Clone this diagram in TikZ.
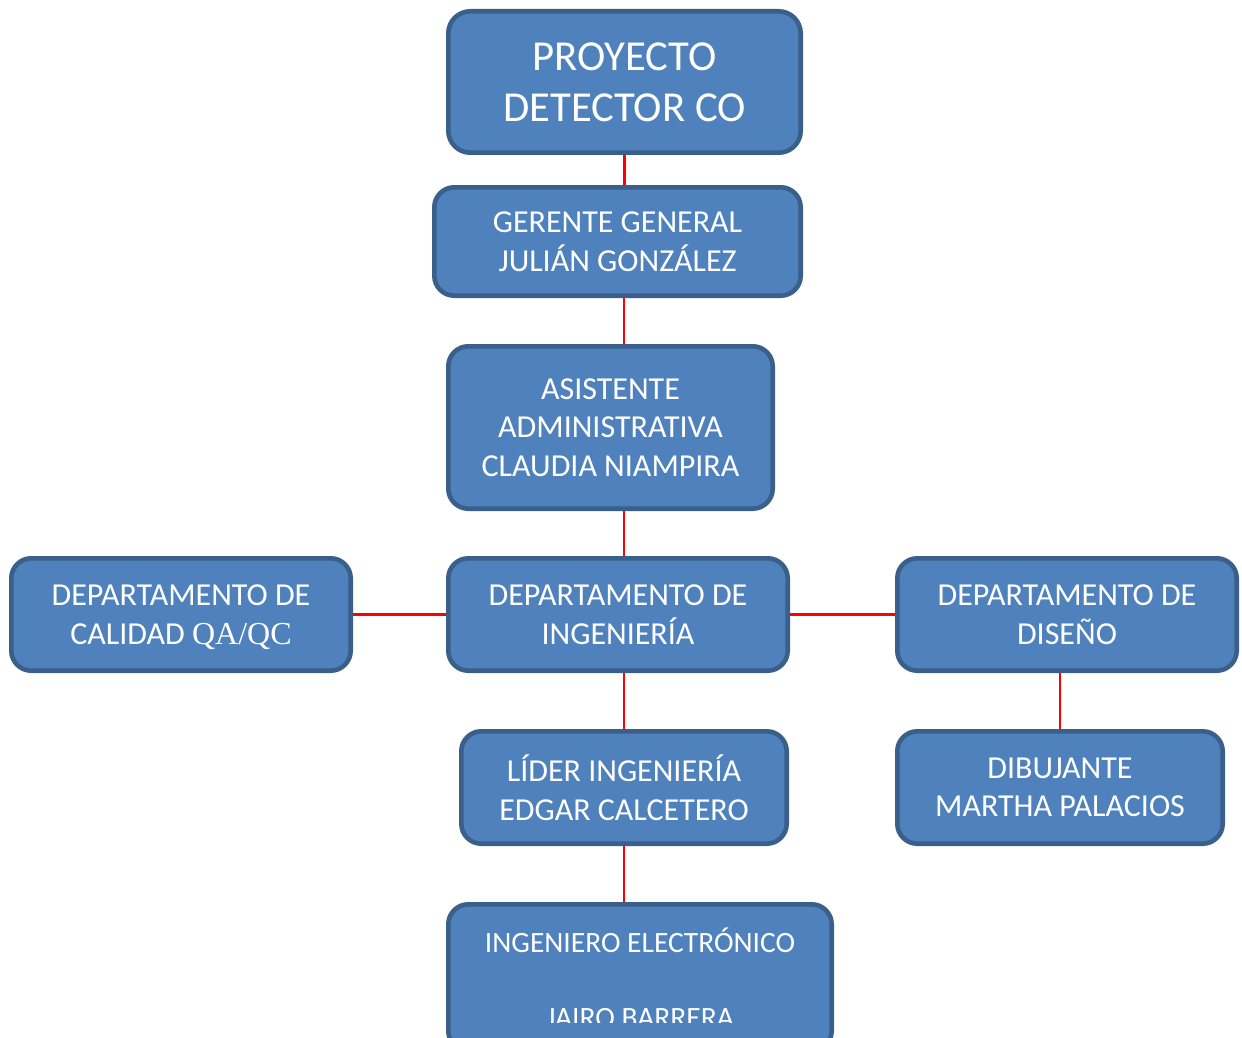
\documentclass[tikz,border=0pt]{standalone}
\usepackage{fontspec}
\setmainfont{Carlito}
\newfontfamily\serifqa{Liberation Serif}
\usetikzlibrary{backgrounds}
\definecolor{boxfill}{HTML}{4F81BD}
\definecolor{boxline}{HTML}{3A5F8B}
\definecolor{connred}{HTML}{FF0000}
\tikzset{
  orgbox/.style={draw=boxline, fill=boxfill, line width=4.6pt, rounded corners=20pt,
    text=white, align=center, inner sep=0pt,
    font=\fontsize{32}{38.5}\selectfont},
  conn/.style={draw=connred, line width=2.2pt}
}
\begin{document}
\begin{tikzpicture}[x=1pt,y=-1pt]
\useasboundingbox (0,0) rectangle (1242,1038);
\clip (0,0) rectangle (1242,1038);
\node[orgbox, rounded corners=22pt, minimum width=352.4pt, minimum height=141.4pt,
  font=\fontsize{42.7}{51}\selectfont] (n1) at (624.5,82) {PROYECTO\\DETECTOR CO};
\node[orgbox, minimum width=366.4pt, minimum height=108.4pt] (n2) at (617.5,241.5) {GERENTE GENERAL\\JULIÁN GONZÁLEZ};
\node[orgbox, minimum width=324.4pt, minimum height=162.4pt] (n3) at (610.5,427.5) {ASISTENTE\\ADMINISTRATIVA\\CLAUDIA NIAMPIRA};
\node[orgbox, minimum width=339.4pt, minimum height=112.4pt] (n4) at (181,614.5) {DEPARTAMENTO DE\\CALIDAD \raisebox{0pt}[\height][0pt]{\serifqa QA/QC}};
\node[orgbox, minimum width=339.4pt, minimum height=112.4pt] (n5) at (618,614.5) {DEPARTAMENTO DE\\INGENIERÍA};
\node[orgbox, minimum width=339.4pt, minimum height=112.4pt] (n6) at (1067,614.5) {DEPARTAMENTO DE\\DISEÑO};
\node[orgbox, minimum width=325.4pt, minimum height=112.4pt] (n7) at (624,787.5) {LÍDER INGENIERÍA\\EDGAR CALCETERO};
\node[orgbox, minimum width=325.4pt, minimum height=112.4pt] (n8) at (1060,787.5) {DIBUJANTE\\MARTHA PALACIOS};
\node[orgbox, minimum width=383.4pt, minimum height=146.4pt] (n9) at (640,977.5) {};
\begin{scope}
  \clip (446,902) rectangle (834,1022);
  \node[text=white, align=center, inner sep=0pt, font=\fontsize{29.5}{37.5}\selectfont] (n9text) at (n9.center) {INGENIERO ELECTRÓNICO\\[37.5pt]JAIRO BARRERA};
\end{scope}
\begin{scope}[on background layer]
  \draw[conn] (n1.south) -- (n2.north -| n1.south);
  \draw[conn] (n2.south -| n7.north) -- (n3.north -| n7.north);
  \draw[conn] (n3.south -| n7.north) -- (n5.north -| n7.north);
  \draw[conn] (n5.south -| n7.north) -- (n7.north);
  \draw[conn] (n7.south) -- (n9.north -| n7.south);
  \draw[conn] (n4.east) -- (n5.west);
  \draw[conn] (n5.east) -- (n6.west);
  \draw[conn] (n6.south -| n8.north) -- (n8.north);
\end{scope}
\end{tikzpicture}
\end{document}
